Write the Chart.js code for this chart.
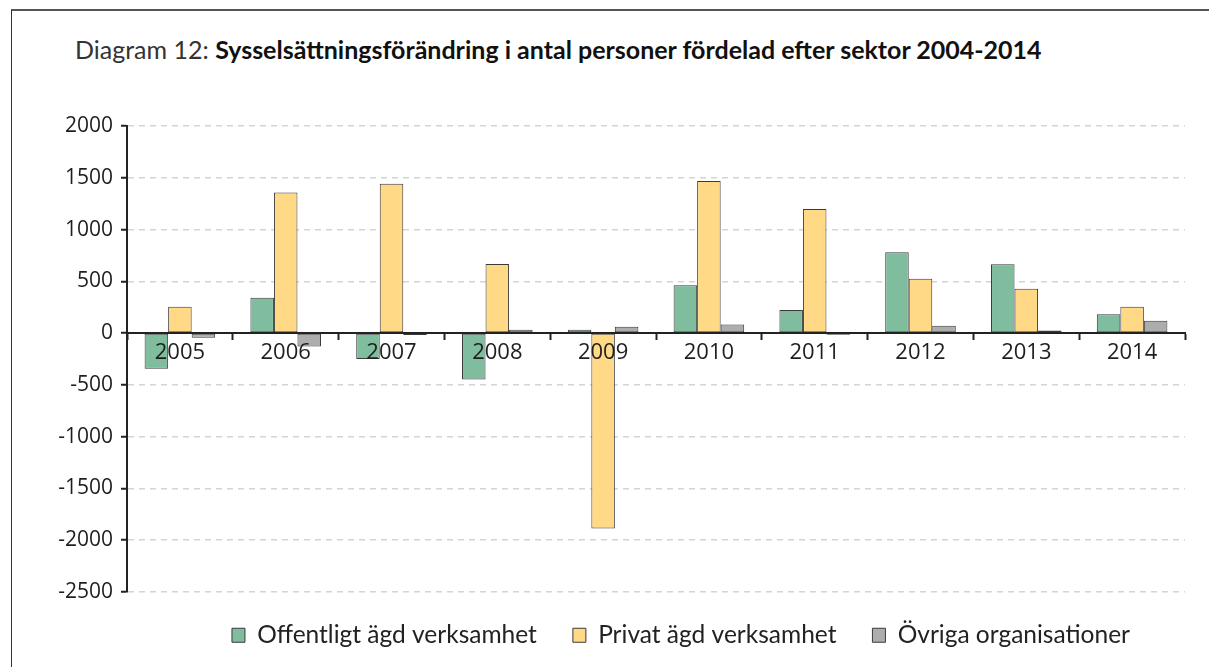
<!DOCTYPE html>
<html>
<head>
<meta charset="utf-8">
<script src="https://cdn.jsdelivr.net/npm/chart.js@4/dist/chart.umd.min.js"></script>
<style>
  html, body { margin: 0; padding: 0; background: #fff; }
  #wrap { position: relative; width: 1209px; height: 667px; overflow: hidden; }
  #frame { position: absolute; left: 11px; top: 9px; right: -5px; bottom: -5px;
           border-left: 1px solid #333; border-top: 2px solid #555; }
  #titel { position: absolute; left: 75px; top: 34px; font-family: Lato, sans-serif;
           font-size: 25px; color: #333; white-space: nowrap; }
  #titel b { font-weight: bold; color: #111; }
  canvas { position: absolute; left: 0; top: 0; }
</style>
</head>
<body>
<div id="wrap">
  <div id="frame"></div>
  <div id="titel">Diagram 12: <b>Sysselsättningsförändring i antal personer fördelad efter sektor 2004-2014</b></div>
  <canvas id="grafico" width="1209" height="667"></canvas>
</div>
<script>
var anios = ['2005','2006','2007','2008','2009','2010','2011','2012','2013','2014'];
var offentligt = [-345, 341, -251, -447, 32, 461, 222, 780, 664, 181];
var privat = [254, 1359, 1443, 667, -1887, 1469, 1198, 525, 428, 254];
var ovriga = [-45, -129, -19, 32, 61, 84, -15, 71, 26, 119];
var nombres = ['Offentligt ägd verksamhet', 'Privat ägd verksamhet', 'Övriga organisationer'];
var colores = ['#80bd9e', '#ffd986', '#adadad'];

var ctx = document.getElementById('grafico');
Chart.defaults.font.family = "'Open Sans', sans-serif";
Chart.defaults.color = '#1e1e1e';

// la leyenda ocupa la franja inferior y se corre un poco a la izquierda y arriba
var ajusteLeyenda = {
    id: 'ajusteLeyenda',
    beforeInit: function(chart){
        var fit = chart.legend.fit;
        chart.legend.fit = function(){
            fit.call(this);
            this.height = 75;
        };
    },
    afterLayout: function(chart){
        chart.legend.right -= 19;
        chart.legend.top -= 5;
    }
};

var datos = {
    labels: anios,
    datasets: [offentligt, privat, ovriga].map(function(serie, i){
        return {
            label: nombres[i],
            data: serie,
            backgroundColor: colores[i],
            borderColor: '#3a3a3a',
            borderWidth: 1,
            borderSkipped: false,
            categoryPercentage: 0.667,
            barPercentage: 1.0
        };
    })
};

var grafico = new Chart(ctx, {
    type: 'bar',
    data: datos,
    plugins: [ajusteLeyenda],
    options: {
        responsive: false,
        animation: false,
        layout: { padding: { left: 0, right: 24, top: 126, bottom: 0 } },
        plugins: {
            tooltip: { enabled: false },
            legend: {
                position: 'bottom',
                align: 'end',
                labels: {
                    font: { family: 'Lato, sans-serif', size: 24.5 },
                    color: '#222',
                    boxWidth: 13,
                    boxHeight: 14,
                    padding: 36
                }
            }
        },
        scales: {
            x: {
                position: { y: 0 },
                offset: true,
                grid: { offset: true, drawOnChartArea: false, drawTicks: true, tickLength: 6, tickColor: '#222', tickWidth: 2, z: 1 },
                border: { color: '#222', width: 2, z: 1 },
                ticks: { font: { size: 22 }, padding: 0, color: '#1e1e1e', z: 1 }
            },
            y: {
                min: -2500,
                max: 2000,
                afterFit: function(scale){ scale.width = 127; },
                ticks: {
                    stepSize: 500, font: { size: 21 }, padding: 8, color: '#1e1e1e',
                    callback: function(v){ return String(v); }
                },
                grid: { color: '#d4d4d4', lineWidth: 1.5, tickColor: '#222', tickWidth: 2, tickLength: 6, tickBorderDash: [] },
                border: { color: '#222', width: 2, dash: [6, 5] }
            }
        }
    }
});
</script>
</body>
</html>
